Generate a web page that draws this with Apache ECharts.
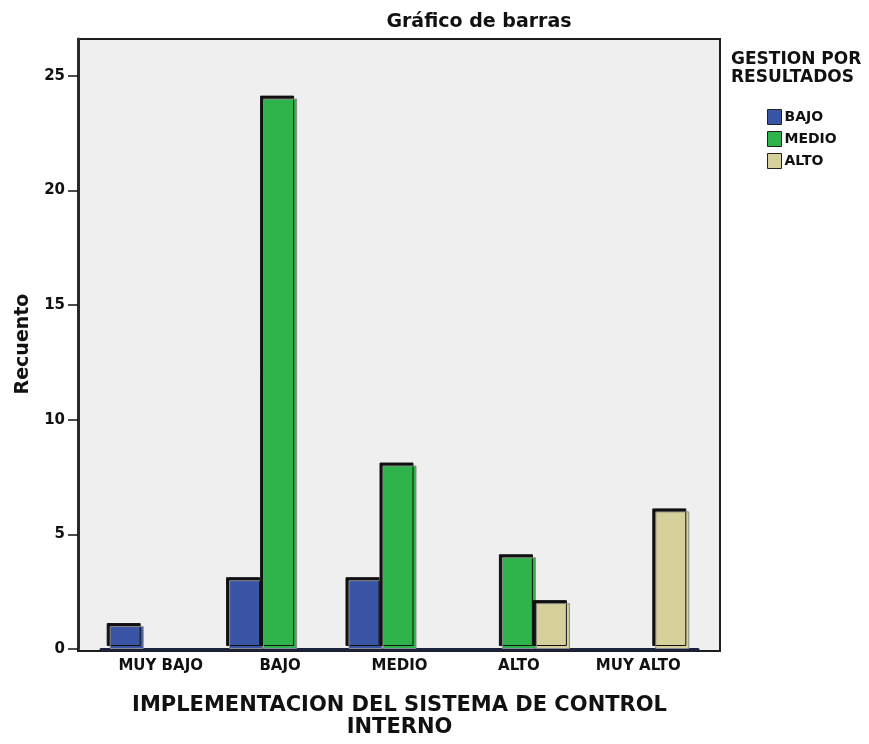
<!DOCTYPE html>
<html>
<head>
<meta charset="utf-8">
<script src="https://cdn.jsdelivr.net/npm/echarts@6/dist/echarts.min.js"></script>
<style>
  html, body { margin: 0; padding: 0; background: #ffffff; }
  #chart { width: 869px; height: 744px; }
</style>
</head>
<body>
<div id="chart"></div>
<script>
// Counts by level of internal-control implementation, split by results-management level
const categories = ['MUY BAJO', 'BAJO', 'MEDIO', 'ALTO', 'MUY ALTO'];
const seriesNames = ['BAJO', 'MEDIO', 'ALTO'];
const valuesBajo = [1, 3, 3, '-', '-'];
const valuesMedio = ['-', 24, 8, 4, '-'];
const valuesAlto = ['-', '-', '-', 2, 6];
const yTicks = [0, 5, 10, 15, 20, 25];

const colors = ['#3a55a6', '#2eb44b', '#d6d09a'];
const FONT = 'DejaVu Sans';

function barSeries(name, data, color) {
  return {
    name: name,
    type: 'bar',
    xAxisIndex: 1,
    yAxisIndex: 1,
    data: data,
    barWidth: 34,
    barGap: '0%',
    itemStyle: {
      color: color,
      borderColor: '#8a8a8a',
      borderWidth: 1,
      shadowColor: '#111111',
      shadowBlur: 0,
      shadowOffsetX: -3,
      shadowOffsetY: -3
    }
  };
}

const chart = echarts.init(document.getElementById('chart'), null, { renderer: 'canvas' });

chart.setOption({
  animation: false,
  backgroundColor: '#ffffff',
  title: [
    {
      text: 'Gráfico de barras',
      left: 474,
      top: 8,
      textAlign: 'center',
      textStyle: { fontFamily: FONT, fontSize: 19, fontWeight: 'bold', color: '#111' }
    },
    {
      text: 'GESTION POR\nRESULTADOS',
      left: 726,
      top: 46,
      textStyle: { fontFamily: FONT, fontSize: 17, fontWeight: 'bold', color: '#111', lineHeight: 18 }
    }
  ],
  legend: {
    orient: 'vertical',
    left: 762,
    top: 104,
    itemWidth: 14,
    itemHeight: 15,
    itemGap: 6,
    icon: 'rect',
    data: seriesNames,
    itemStyle: { borderColor: '#222', borderWidth: 1 },
    textStyle: { fontFamily: FONT, fontSize: 14, fontWeight: 'bold', color: '#111', padding: [0, 0, 0, -2] }
  },
  grid: [
    {
      // framed panel behind the plot
      left: 78, right: 149, top: 39, bottom: 93,
      show: true,
      backgroundColor: '#efefef',
      borderColor: '#1e1e1e',
      borderWidth: 2
    },
    {
      left: 101, right: 171, top: 39, bottom: 93
    }
  ],
  xAxis: [
    { gridIndex: 0, type: 'category', data: categories, show: false },
    {
      gridIndex: 1,
      type: 'category',
      data: categories,
      axisLine: { lineStyle: { color: '#1a2240', width: 3 } },
      axisTick: { alignWithLabel: true, length: 6, lineStyle: { color: '#111', width: 1.5 } },
      axisLabel: { fontFamily: FONT, fontSize: 15, fontWeight: 'bold', color: '#111', margin: 10 },
      name: 'IMPLEMENTACION DEL SISTEMA DE CONTROL\nINTERNO',
      nameLocation: 'middle',
      nameGap: 46,
      nameTextStyle: { fontFamily: FONT, fontSize: 21, fontWeight: 'bold', color: '#111', lineHeight: 22 }
    }
  ],
  yAxis: [
    { gridIndex: 0, type: 'value', show: false, min: 0, max: 26.6 },
    {
      gridIndex: 1,
      type: 'value',
      min: 0,
      max: 26.6,
      interval: 5,
      offset: 23,
      splitLine: { show: false },
      axisLine: { show: true, onZero: false, lineStyle: { color: '#2a2a2a', width: 3 } },
      axisTick: { show: true, length: 10, customValues: yTicks, lineStyle: { color: '#111', width: 1.5 } },
      axisLabel: {
        fontFamily: FONT, fontSize: 15, fontWeight: 'bold', color: '#111', margin: 13,
        customValues: yTicks
      },
      name: 'Recuento',
      nameLocation: 'middle',
      nameGap: 45,
      nameTextStyle: { fontFamily: FONT, fontSize: 19, fontWeight: 'bold', color: '#111' }
    }
  ],
  series: [
    barSeries(seriesNames[0], valuesBajo, colors[0]),
    barSeries(seriesNames[1], valuesMedio, colors[1]),
    barSeries(seriesNames[2], valuesAlto, colors[2])
  ]
});
</script>
</body>
</html>
